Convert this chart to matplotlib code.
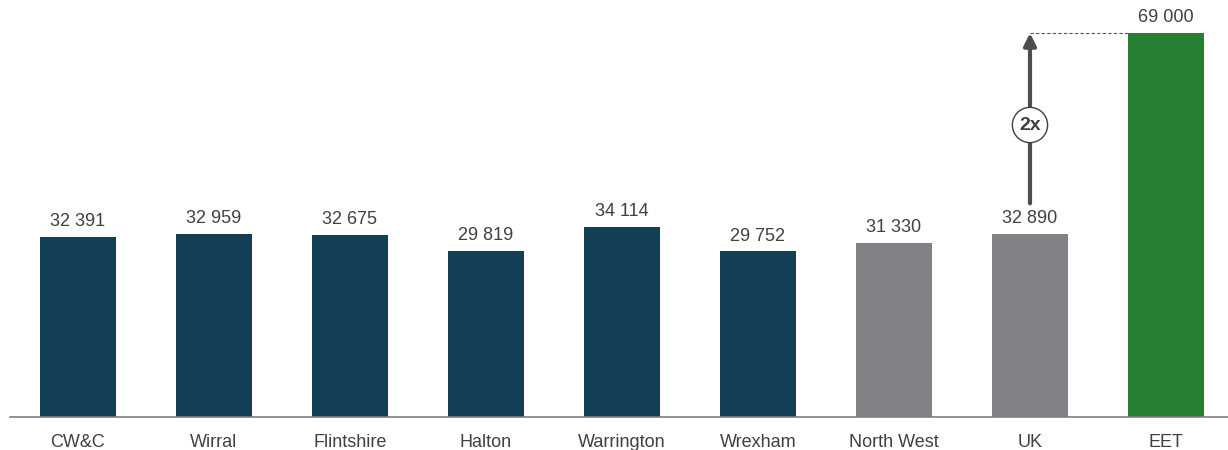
import matplotlib.pyplot as plt
from matplotlib import font_manager

names = [f.name for f in font_manager.fontManager.ttflist]
family = 'Liberation Sans Narrow' if 'Liberation Sans Narrow' in names else 'Liberation Sans'
plt.rcParams['font.family'] = [family, 'DejaVu Sans']

categories = ['CW&C', 'Wirral', 'Flintshire', 'Halton', 'Warrington', 'Wrexham',
              'North West', 'UK', 'EET']
values = [32391, 32959, 32675, 29819, 34114, 29752, 31330, 32890, 69000]
labels = ['32 391', '32 959', '32 675', '29 819', '34 114', '29 752', '31 330', '32 890', '69 000']
colors = ['#123f55'] * 6 + ['#808285'] * 2 + ['#267f32']

fig = plt.figure(figsize=(12.28, 4.5), dpi=100)
ax = fig.add_axes([10 / 1228, 33 / 450, 1218 / 1228, 417 / 450])

x = list(range(len(categories)))
ax.bar(x, values, width=0.56, color=colors)
ax.set_xlim(-0.5, 8.456)
ax.set_ylim(0, 74935)

for xi, v, lab in zip(x, values, labels):
    ax.text(xi, v + 1200, lab, ha='center', va='bottom', fontsize=13, color='#404040')

ax.set_xticks(x)
ax.set_xticklabels(categories, fontsize=13, color='#404040')
ax.tick_params(axis='x', length=0, pad=12)
ax.set_yticks([])
for s in ['top', 'right', 'left']:
    ax.spines[s].set_visible(False)
ax.spines['bottom'].set_color('#7f7f7f')
ax.spines['bottom'].set_linewidth(1.2)

# 2x arrow from UK to EET
uk, eet = 7, 8
ax.annotate('', xy=(uk, values[eet]), xytext=(uk, 38400),
            arrowprops=dict(arrowstyle='-|>', color='#4d4d4d', lw=3, mutation_scale=18,
                            shrinkA=0, shrinkB=0))
ax.plot([uk, eet - 0.28], [values[eet], values[eet]], ls=(0, (3, 2)), color='#555555', lw=0.8)
ax.text(uk, 52470, '2x', ha='center', va='center', fontsize=14, fontweight='bold', color='#404040',
        bbox=dict(boxstyle='circle,pad=0.35', fc='white', ec='#404040', lw=1))

fig.savefig('out.png', dpi=100)
